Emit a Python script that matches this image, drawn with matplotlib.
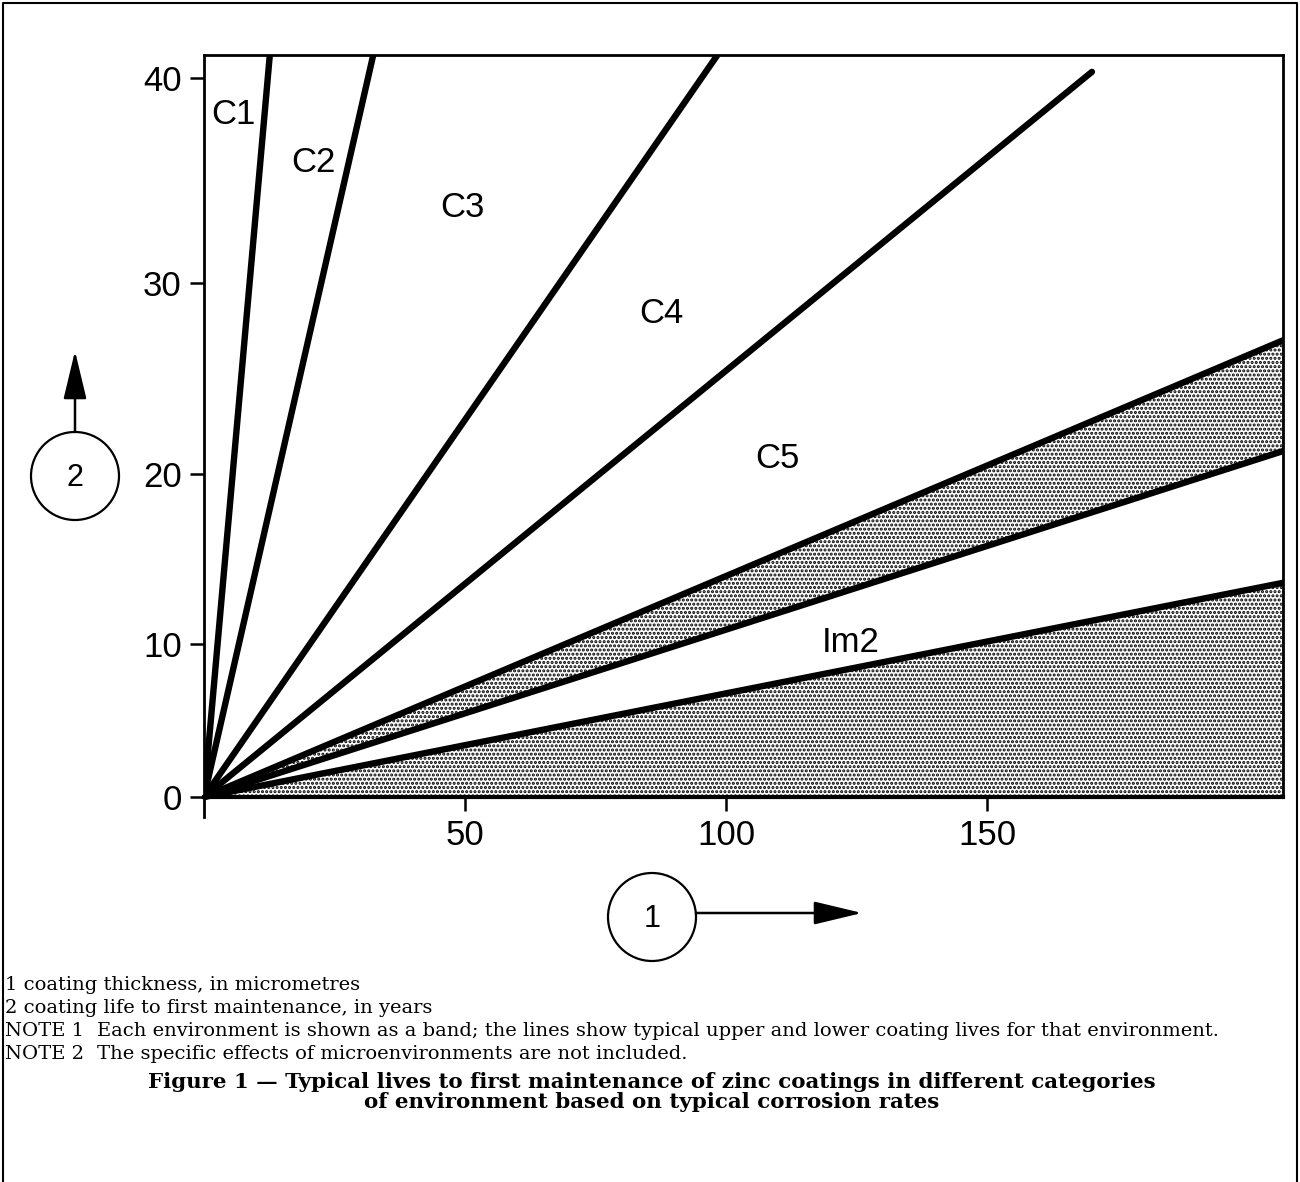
import matplotlib.pyplot as plt
import numpy as np
from matplotlib.patches import Circle

# coating thickness (um) and life (years) at the far end of each line from the origin
line_x = [12.6, 32.4, 98.3, 170.1, 206.7, 206.7, 206.7]
line_y = [41.1, 41.1, 41.1, 40.3, 27.0, 21.2, 13.6]

# shaded bands: (lower line, upper line), None = x axis
bands = [(5, 4), (None, 6)]

zone_names = ["C1", "C2", "C3", "C4", "C5", "Im2"]
zone_x = [5.6, 20.9, 49.6, 87.7, 109.8, 123.9]
zone_y = [38.2, 35.9, 33.7, 28.4, 20.8, 10.1]

x_ticks = [50, 100, 150]
y_ticks = [0, 10, 20, 30, 40]

notes = [
    ("", "1 coating thickness, in micrometres"),
    ("", "2 coating life to first maintenance, in years"),
    ("NOTE 1", "Each environment is shown as a band; the lines show typical upper "
               "and lower coating lives for that environment."),
    ("NOTE 2", "The specific effects of microenvironments are not included."),
]
caption = ("Figure 1 \u2014 Typical lives to first maintenance of zinc coatings in different categories\n"
           "of environment based on typical corrosion rates")

W, H = 1300, 1182

# the printed y axis is not evenly spaced, keep tick positions as drawn
y_knots = [-10, 0, 10, 20, 30, 40, 50]
y_pos = [-153, 0, 153, 323, 514, 719, 924]


def y_fwd(v):
    return np.interp(v, y_knots, y_pos)


def y_inv(p):
    return np.interp(p, y_pos, y_knots)


def px_axes(x0, y0, x1, y1):
    return [x0 / W, 1 - y1 / H, (x1 - x0) / W, (y1 - y0) / H]


fig = plt.figure(figsize=(W / 100, H / 100), dpi=100)
plt.rcParams['hatch.linewidth'] = 1.5

ax = fig.add_axes(px_axes(204, 55, 1283, 817))
ax.set_yscale('function', functions=(y_fwd, y_inv))
ax.set_xlim(0, 206.7)
ax.set_ylim(y_inv(-20), y_inv(742))

for lo, hi in bands:
    x = [0, line_x[hi]]
    y1 = [0, 0] if lo is None else [0, line_y[lo]]
    y2 = [0, line_y[hi]]
    ax.fill_between(x, y1, y2, facecolor='white', edgecolor='black',
                    hatch='....', linewidth=0, zorder=1)

for xe, ye in zip(line_x, line_y):
    ax.plot([0, xe], [0, ye], color='black', lw=4.6,
            solid_capstyle='round', zorder=3)

for name, zx, zy in zip(zone_names, zone_x, zone_y):
    ax.text(zx, zy, name, fontsize=25, family='Liberation Sans',
            ha='center', va='center', zorder=4)

ax.spines['bottom'].set_position(('data', 0))
ax.spines['right'].set_bounds(0, y_inv(742))
for s in ax.spines.values():
    s.set_linewidth(2.0)
ax.spines['bottom'].set_linewidth(3.0)

ax.set_xticks(x_ticks)
ax.set_yticks(y_ticks)
ax.xaxis.set_minor_locator(plt.NullLocator())
ax.yaxis.set_minor_locator(plt.NullLocator())
ax.tick_params(direction='out', length=10, width=1.8, labelsize=25, pad=6)
for lab in ax.get_xticklabels() + ax.get_yticklabels():
    lab.set_family('Liberation Sans')

# overlay in pixel coordinates for keys, notes and frame
ov = fig.add_axes([0, 0, 1, 1], zorder=5)
ov.set_xlim(0, W)
ov.set_ylim(H, 0)
ov.axis('off')
ov.patch.set_alpha(0)

ov.plot([3, 3, W - 3, W - 3], [H, 3, 3, H], color='black', lw=1.5)

for num, cx, cy in [("2", 75, 476), ("1", 652, 917)]:
    ov.add_patch(Circle((cx, cy), 44, fill=False, lw=1.6, color='black'))
    ov.text(cx, cy + 2, num, fontsize=22, family='Liberation Sans',
            ha='center', va='center')

arrow = dict(arrowstyle='-|>,head_length=1.5,head_width=0.36',
             mutation_scale=20, lw=1.8, color='black', shrinkA=0, shrinkB=0)
ov.annotate('', xy=(75, 351), xytext=(75, 432), arrowprops=arrow)
ov.annotate('', xy=(862, 913), xytext=(696, 913), arrowprops=arrow)

ny = 985
for tag, body in notes:
    if tag:
        ov.text(5, ny, tag, fontsize=14, family='DejaVu Serif', va='center')
        ov.text(97, ny, body, fontsize=14, family='DejaVu Serif', va='center')
    else:
        ov.text(5, ny, body, fontsize=14, family='DejaVu Serif', va='center')
    ny += 23

ov.text(652, 1092, caption, fontsize=15.4, family='DejaVu Serif',
        fontweight='bold', ha='center', va='center', linespacing=1.05)

fig.savefig('out.png', dpi=100)
